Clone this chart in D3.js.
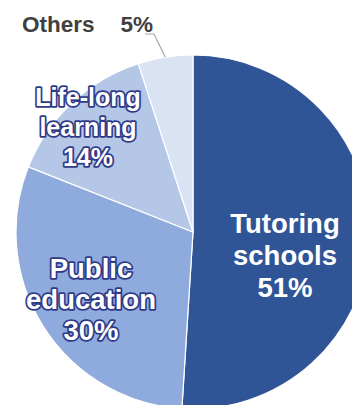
<!DOCTYPE html>
<html>
<head>
<meta charset="utf-8">
<script src="https://cdn.jsdelivr.net/npm/d3@7/dist/d3.min.js"></script>
<style>
  html, body { margin: 0; padding: 0; background: #fff; }
  svg { display: block; }
  text { font-family: "Liberation Sans", Arial, sans-serif; font-weight: bold; }
</style>
</head>
<body>
<svg id="chart" width="352" height="405"></svg>
<script>
// Share of spending by education channel (%)
const categories = ["Tutoring schools", "Public education", "Life-long learning", "Others"];
const shares = [51, 30, 14, 5];
const colors = ["#2F5597", "#8FAADC", "#B4C7E7", "#DAE3F3"];
// Label lines for each slice (last line is the share)
const labelLines = [
  ["Tutoring", "schools"],
  ["Public", "education"],
  ["Life-long", "learning"],
  ["Others"]
];

const svg = d3.select("#chart");
const cx = 193, cy = 232, r = 177;

const pie = d3.pie().sort(null).value(d => d)(shares);
const arc = d3.arc().innerRadius(0).outerRadius(r);

const g = svg.append("g").attr("transform", `translate(${cx},${cy})`);

g.selectAll("path.slice")
  .data(pie)
  .join("path")
  .attr("class", "slice")
  .attr("d", arc)
  .attr("fill", (d, i) => colors[i])
  .attr("stroke", "#fff")
  .attr("stroke-width", 1.2);

// Inside labels: position, font size and line spacing per slice
const inside = [
  { x: 285, y: 233, size: 27.5, lh: 32, outline: false },
  { x: 91,  y: 278, size: 27.5, lh: 31, outline: true },
  { x: 88,  y: 106, size: 25, lh: 30, outline: true }
];

inside.forEach((o, i) => {
  const lines = labelLines[i].concat([shares[i] + "%"]);
  const t = svg.append("text")
    .attr("text-anchor", "middle")
    .attr("font-size", o.size)
    .attr("fill", "#fff");
  if (o.outline) {
    t.attr("stroke", "#2E3A87")
     .attr("stroke-width", 3.5)
     .attr("stroke-linejoin", "round")
     .attr("paint-order", "stroke");
  }
  lines.forEach((s, k) => {
    t.append("tspan").attr("x", o.x).attr("y", o.y + k * o.lh).text(s);
  });
});

// Outside label for the small slice with a leader line
const small = pie[3];
const mid = (small.startAngle + small.endAngle) / 2;
const p0 = [cx + r * Math.sin(mid), cy - r * Math.cos(mid)];
const elbow = [154, 34];
const end = [145, 34];
svg.append("polyline")
  .attr("points", [p0, elbow, end].map(p => p.join(",")).join(" "))
  .attr("fill", "none")
  .attr("stroke", "#A6A6A6")
  .attr("stroke-width", 1.2);

svg.append("text")
  .attr("x", 22).attr("y", 32)
  .attr("font-size", 22.5)
  .attr("fill", "#404040")
  .text(labelLines[3][0]);
svg.append("text")
  .attr("x", 153).attr("y", 32)
  .attr("text-anchor", "end")
  .attr("font-size", 22.5)
  .attr("fill", "#404040")
  .text(shares[3] + "%");
</script>
</body>
</html>
